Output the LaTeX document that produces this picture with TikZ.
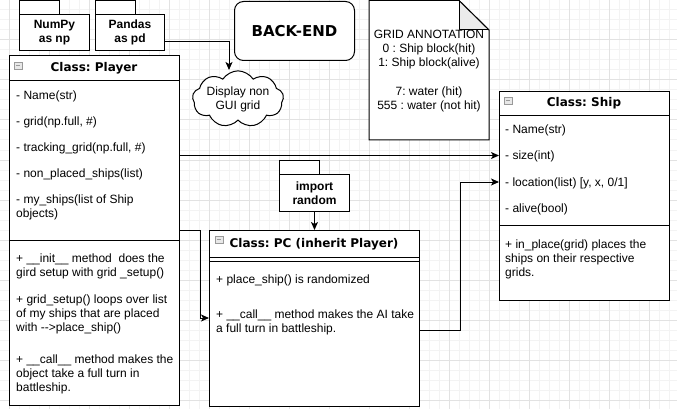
\documentclass[tikz,border=0pt]{standalone}
\usepackage{fontspec}
\setmainfont{Liberation Sans}
\newfontfamily\vfont{DejaVu Sans}
\usetikzlibrary{shapes.symbols,arrows.meta,calc}
\definecolor{gridminor}{HTML}{F3F3F3}
\definecolor{gridmajor}{HTML}{E2E2E2}
\definecolor{foldgray}{HTML}{EBEBEB}
\definecolor{iconfill}{HTML}{E8E8E8}
\tikzset{
  box/.style={draw, line width=1pt, fill=white, minimum width=#1, inner sep=0pt, anchor=north west},
  txt/.style={anchor=base west, inner sep=0pt, font=\fontsize{12}{14}\selectfont},
  ctxt/.style={inner sep=0pt, align=center, font=\fontsize{12}{14}\selectfont},
  title/.style={inner sep=0pt, anchor=base, font=\vfont\bfseries\fontsize{12}{14}\selectfont},
  pkglabel/.style={inner sep=0pt, align=center, font=\bfseries\fontsize{12}{13.5}\selectfont},
  sep/.style={line width=1pt},
  arr/.style={line width=1pt, -{Stealth[length=8pt,width=7pt,inset=2pt]}},
  icon/.style={draw=gray!80, line width=0.6pt, fill=iconfill, minimum width=8pt, minimum height=7pt, inner sep=0pt, anchor=north west},
}
\newcommand{\ml}[1]{\begin{tabular}[t]{@{}l@{}}#1\end{tabular}}
\begin{document}
\frenchspacing
\begin{tikzpicture}[x=1pt,y=-1pt]
\useasboundingbox (0,0) rectangle (677,409);
\fill[white] (0,0) rectangle (677,409);
% background grid
\foreach \x in {-1,9,...,679} \draw[gridminor, line width=1pt] (\x,0) -- (\x,409);
\foreach \y in {10,20,...,409} \draw[gridminor, line width=1pt] (0,\y) -- (677,\y);
\foreach \x in {9,49,...,679} \draw[gridmajor, line width=1pt] (\x,0) -- (\x,409);
\foreach \y in {0,40,...,409} \draw[gridmajor, line width=1pt] (0,\y) -- (677,\y);

% ---------- packages ----------
\node[box=40pt, minimum height=13.5pt] (numpytab) at (19,0.5) {};
\node[box=70pt, minimum height=36pt, pkglabel] (numpy) at (19,14) {};
\node[pkglabel] (numpylbl) at (numpy.center) {NumPy\\as np};
\node[box=40pt, minimum height=13.5pt] (pandastab) at (95,0.5) {};
\node[box=69pt, minimum height=36pt] (pandas) at (95,14) {};
\node[pkglabel] (pandaslbl) at (pandas.center) {Pandas\\as pd};
\node[box=40pt, minimum height=14pt] (randtab) at (279,160) {};
\node[box=70pt, minimum height=37pt] (rand) at (279,174) {};
\node[pkglabel] (randlbl) at (rand.center) {import\\random};

% ---------- BACK-END ----------
\node[draw, line width=1pt, fill=white, rounded corners=9pt, minimum width=120pt, minimum height=59pt,
      inner sep=0pt, anchor=north west, font=\vfont\bfseries\fontsize{15}{18}\selectfont] (backend) at (234,1) {BACK-END};

% ---------- cloud ----------
\node[cloud, draw, line width=1pt, fill=white, cloud puffs=9, cloud puff arc=115, aspect=2.1,
      minimum width=87pt, minimum height=46pt, inner sep=-4pt, ctxt] (cloud) at (238,99) {Display non\\GUI grid};
\coordinate (cloudtop) at (229,70);

% ---------- note ----------
\filldraw[line width=1pt, fill=white] (369,0.5) -- (459,0.5) -- (489,30) -- (489,140) -- (369,140) -- cycle;
\filldraw[line width=1pt, fill=foldgray, line join=round] (459,0.5) -- (459,30) -- (489,30);
\draw[line width=1pt] (459,0.5) -- (489,30);
\node[ctxt, font=\fontsize{12}{14.2}\selectfont] (note) at (429,71) {GRID ANNOTATION\\0 : Ship block(hit)\\1: Ship block(alive)\\[14.2pt]7: water (hit)\\555 : water (not hit)};

% ---------- Player ----------
\node[box=170pt, minimum height=350pt] (player) at (9,55) {};
\draw[sep] (9,81) -- (179,81);
\draw[sep] (9,240) -- (179,240);
\node[icon] (playericon) at (14,62) {};
\draw[gray!80, line width=0.7pt] (15.8,65.5) -- (20.2,65.5);
\node[title] (playertitle) at (94,72) {Class: Player};
\node[txt] (pa1) at (16,100) {- Name(str)};
\node[txt] (pa2) at (16,126) {- grid(np.full, \#)};
\node[txt] (pa3) at (16,151) {- tracking\_grid(np.full, \#)};
\node[txt] (pa4) at (16,177) {- non\_placed\_ships(list)};
\node[txt] (pa5) at (16,203) {\ml{- my\_ships(list of Ship\\objects)}};
\node[txt] (pm1) at (16,262) {\ml{+ \_\_init\_\_ method~ does the\\gird setup with grid \_setup()}};
\node[txt] (pm2) at (16,303) {\ml{+ grid\_setup() loops over list\\of my ships that are placed\\with {-}{-}>place\_ship()}};
\node[txt] (pm3) at (16,363) {\ml{+ \_\_call\_\_ method makes the\\object take a full turn in\\battleship.}};

% ---------- PC ----------
\node[box=210pt, minimum height=176pt] (pc) at (209,230) {};
\draw[sep] (209,257) -- (419,257);
\draw[sep] (209,261) -- (419,261);
\node[icon] (pcicon) at (215,236) {};
\draw[gray!80, line width=0.7pt] (216.8,239.5) -- (221.2,239.5);
\node[title] (pctitle) at (314,247) {Class: PC (inherit Player)};
\node[txt] (pcm1) at (216,283) {+ place\_ship() is randomized};
\node[txt] (pcm2) at (216,318) {\ml{+ \_\_call\_\_ method makes the AI take\\a full turn in battleship.}};

% ---------- Ship ----------
\node[box=170pt, minimum height=209pt] (ship) at (499,91) {};
\draw[sep] (499,116) -- (669,116);
\draw[sep] (499,225) -- (669,225);
\node[icon] (shipicon) at (504,97) {};
\draw[gray!80, line width=0.7pt] (505.8,100.5) -- (510.2,100.5);
\node[title] (shiptitle) at (584,107) {Class: Ship};
\node[txt] (sa1) at (505,134) {- Name(str)};
\node[txt] (sa2) at (505,160) {- size(int)};
\node[txt] (sa3) at (505,186) {- location(list) [y, x, 0/1]};
\node[txt] (sa4) at (505,212) {- alive(bool)};
\node[txt] (sm1) at (505,248) {\ml{+ in\_place(grid) places the\\ships on their respective\\grids.}};

% ---------- connectors ----------
\coordinate (ysize) at (0,155.5);
\coordinate (yloc) at (0,182);
\coordinate (ypcout) at (0,330);
\coordinate (yplout) at (0,230);
\coordinate (ypcin) at (0,318);
\draw[arr] ($(pandas.south east)+(0,-9)$) -| (cloudtop);
\draw[arr] (player.east |- ysize) -- (ship.west |- ysize);
\draw[arr] (pc.east |- ypcout) -- ++(40,0) |- (ship.west |- yloc);
\draw[arr] (player.east |- yplout) -- ++(20,0) |- (pc.west |- ypcin);
\draw[arr] (rand.south) -- (pc.north);
\end{tikzpicture}
\end{document}
